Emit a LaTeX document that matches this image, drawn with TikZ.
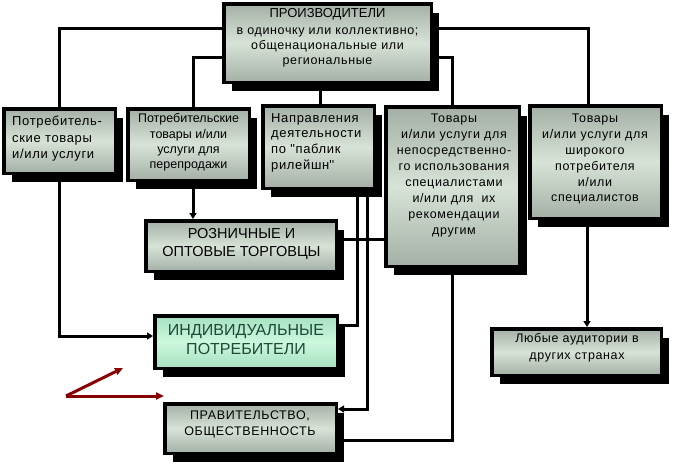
\documentclass[tikz,border=0pt]{standalone}
\usepackage{fontspec}
\setmainfont{Liberation Sans}
\newfontfamily\lspA{Liberation Sans}[LetterSpace=5]
\newfontfamily\lspB{Liberation Sans}[LetterSpace=0]
\usetikzlibrary{shadows,arrows.meta,calc}
\definecolor{bxedge}{HTML}{A4B0A5}
\definecolor{bxmid}{HTML}{D8E3D8}
\definecolor{gredge}{HTML}{A6E0C0}
\definecolor{grmid}{HTML}{CCF8DC}
\definecolor{grtext}{HTML}{1E4A3A}
\definecolor{redarrow}{HTML}{880000}
\tikzset{
  box/.style={draw=black, line width=3.5pt, inner sep=0pt,
    top color=bxedge, bottom color=bxedge, middle color=bxmid,
    general shadow={fill=black, shadow xshift=8pt, shadow yshift=-9pt}},
  gbox/.style={box, top color=gredge, bottom color=gredge, middle color=grmid},
  txt/.style={inner sep=0pt, align=center, text=black},
  conn/.style={draw=black, line width=3pt},
  arr/.style={conn, -{Triangle[length=6pt,width=7pt]}},
  redarr/.style={draw=redarrow, line width=3pt, -{Triangle[length=8pt,width=7pt]}},
}
\begin{document}
\begin{tikzpicture}[x=1pt,y=-1pt]
\useasboundingbox (0,0) rectangle (673,464);
\fill[white] (0,0) rectangle (673,464);
% boxes
\node[box, minimum width=207.5pt, minimum height=78.5pt] (prod) at (327.5,43) {};
\node[box, minimum width=111.5pt, minimum height=64.5pt] (b1) at (59.5,141) {};
\node[box, minimum width=121.5pt, minimum height=71.5pt] (b2) at (188.5,144.5) {};
\node[box, minimum width=111.5pt, minimum height=82.5pt] (b3) at (318.5,147) {};
\node[box, minimum width=133.5pt, minimum height=159.5pt] (b4) at (452.5,186.5) {};
\node[box, minimum width=131.5pt, minimum height=112.5pt] (b5) at (595.5,162) {};
\node[box, minimum width=190.5pt, minimum height=50.5pt] (roz) at (241,246) {};
\node[gbox, minimum width=182.5pt, minimum height=52.5pt] (ind) at (246,342) {};
\node[box, minimum width=171.5pt, minimum height=49.5pt] (gov) at (250.5,428.5) {};
\node[box, minimum width=169.5pt, minimum height=46.5pt] (lub) at (576.5,352) {};
% texts
\node[txt, anchor=north, font=\lspA\fontsize{12.5}{15}\selectfont] (prodT) at (327.5,8.5)
  {{\rmfamily\fontsize{13}{15}\selectfont ПРОИЗВОДИТЕЛИ}\\[2pt]
   в одиночку или коллективно;\\
   общенациональные или\\
   региональные};
\node[txt, anchor=north west, align=left, font=\lspA\fontsize{13}{16.5}\selectfont] (b1T) at (12,116)
  {Потребитель-\\ские товары\\и/или услуги};
\node[txt, anchor=north, font=\lspB\fontsize{12.5}{15.3}\selectfont] (b2T) at (188.5,113.5)
  {Потребительские\\товары и/или\\услуги для\\перепродажи};
\node[txt, anchor=north west, align=left, font=\lspA\fontsize{13}{15.8}\selectfont] (b3T) at (271,113)
  {Направления\\деятельности\\по "паблик\\рилейшн\textquotesingle\textquotesingle};
\node[txt, anchor=north, font=\lspA\fontsize{12.5}{15.9}\selectfont] (b4T) at (454,114)
  {Товары\\и/или услуги для\\непосредственно-\\го использования\\специалистами\\и/или для\ \ их\\рекомендации\\другим};
\node[txt, anchor=north, font=\lspA\fontsize{12.5}{15.8}\selectfont] (b5T) at (595,114)
  {Товары\\и/или услуги для\\широкого\\потребителя\\и/или\\специалистов};
\node[txt, anchor=north, font=\fontsize{14.5}{18}\selectfont] (rozT) at (241.5,228)
  {РОЗНИЧНЫЕ И\\ОПТОВЫЕ ТОРГОВЦЫ};
\node[txt, anchor=north, text=grtext, font=\fontsize{16}{19}\selectfont] (indT) at (246,324)
  {ИНДИВИДУАЛЬНЫЕ\\ПОТРЕБИТЕЛИ};
\node[txt, anchor=north, font=\lspA\fontsize{12.5}{15.5}\selectfont] (govT) at (250,411)
  {ПРАВИТЕЛЬСТВО,\\ОБЩЕСТВЕННОСТЬ};
\node[txt, anchor=north, font=\lspA\fontsize{12.5}{17}\selectfont] (lubT) at (577,333.5)
  {Любые аудитории в\\других странах};
% connectors from producers
\draw[conn] (prod.west |- 0,28) -| (b1.north);
\draw[conn] (prod.west |- 0,57) -| (193,0 |- b2.north);
\draw[conn] (prod.south -| 320,0) -- (320,0 |- b3.north);
\draw[conn] (prod.east |- 0,28) -| (588,0 |- b5.north);
\draw[conn] (prod.east |- 0,57) -| (452,0 |- b4.north);
% lower connectors
\draw[arr] (b1.south) |- (ind.west |- 0,336);
\draw[arr] (193,0 |- b2.south) -- (193,0 |- roz.north);
\draw[conn] (357,0 |- b3.south) |- (ind.east |- 0,325);
\draw[arr] (367,0 |- b3.south) |- (gov.east |- 0,409);
\draw[conn] (roz.east |- 0,239) -- (b4.west |- 0,239);
\draw[conn] (452,0 |- b4.south) |- (gov.east |- 0,440);
\draw[arr] (587,0 |- b5.south) -- (587,0 |- lub.north);
% red arrows
\coordinate (r0) at (66,396);
\coordinate (r1) at (123,368);
\coordinate (r2) at (164,396);
\draw[redarr] (r0) -- (r1);
\draw[redarr] (r0) -- (r2);
\end{tikzpicture}
\end{document}
